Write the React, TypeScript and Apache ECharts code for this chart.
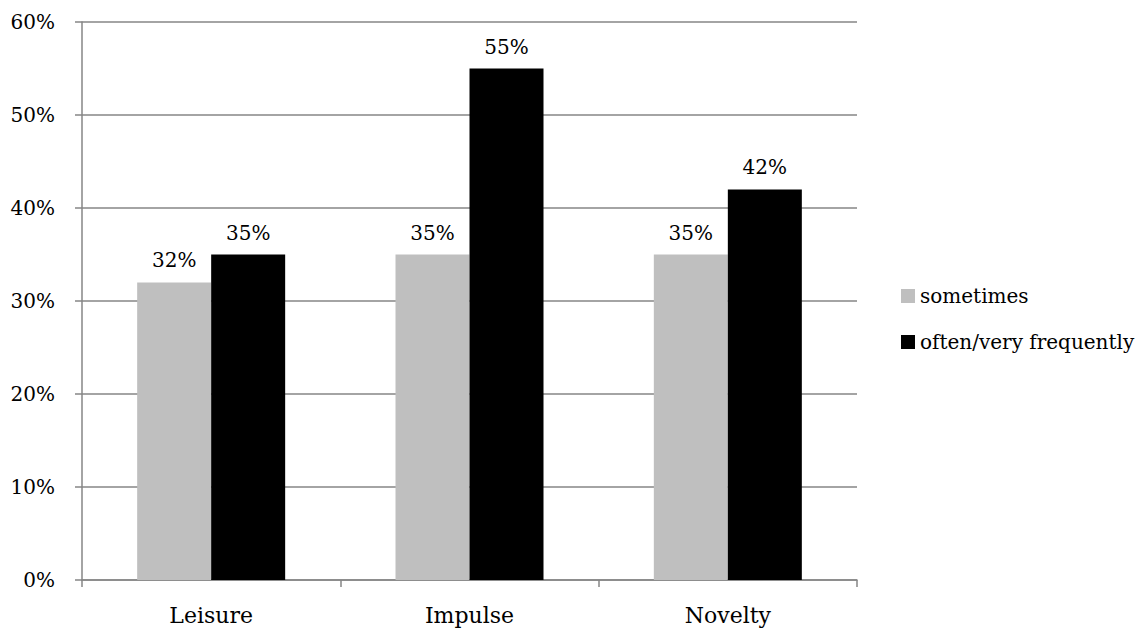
import React, { useEffect, useRef } from "react";
import * as echarts from "echarts";

const categories = ["Leisure", "Impulse", "Novelty"];
const sometimes = [32, 35, 35];
const oftenVeryFrequently = [35, 55, 42];
const seriesNames = ["sometimes", "often/very frequently"];

const FONT = "DejaVu Serif";

export default function App() {
  const ref = useRef<HTMLDivElement>(null);

  useEffect(() => {
    if (!ref.current) return;
    const chart = echarts.init(ref.current, undefined, { renderer: "svg" });
    const labelStyle = {
      show: true,
      position: "top" as const,
      distance: 12,
      formatter: (p: any) => `${p.value}%`,
      color: "#000",
      fontSize: 20,
      fontFamily: FONT,
    };
    chart.setOption({
      animation: false,
      textStyle: { fontFamily: FONT },
      grid: { left: 82, right: 289, top: 22, bottom: 48 },
      legend: {
        orient: "vertical",
        left: 896,
        top: 281,
        padding: 5,
        icon: "rect",
        itemWidth: 14,
        itemHeight: 14,
        itemGap: 26,
        textStyle: { color: "#000", fontSize: 20, lineHeight: 20, fontFamily: FONT },
        data: seriesNames,
      },
      xAxis: {
        type: "category",
        data: categories,
        axisLine: { lineStyle: { color: "#868686", width: 1.5 } },
        axisTick: { show: true, length: 7, lineStyle: { color: "#868686", width: 1.5 } },
        axisLabel: { color: "#000", fontSize: 22, fontFamily: FONT, margin: 24 },
      },
      yAxis: {
        type: "value",
        min: 0,
        max: 60,
        interval: 10,
        axisLine: { show: true, lineStyle: { color: "#868686", width: 1.5 } },
        axisTick: { show: true, length: 7, lineStyle: { color: "#868686", width: 1.5 } },
        splitLine: { show: true, lineStyle: { color: "#868686", width: 1.5 } },
        axisLabel: {
          color: "#000",
          fontSize: 20,
          fontFamily: FONT,
          margin: 27,
          formatter: (v: number) => `${v}%`,
        },
      },
      series: [
        {
          name: seriesNames[0],
          type: "bar",
          data: sometimes,
          barWidth: 74,
          barGap: "0%",
          itemStyle: { color: "#bfbfbf" },
          label: labelStyle,
        },
        {
          name: seriesNames[1],
          type: "bar",
          data: oftenVeryFrequently,
          barWidth: 74,
          barGap: "0%",
          itemStyle: { color: "#000000" },
          label: labelStyle,
        },
      ],
    });
    return () => chart.dispose();
  }, []);

  return (
    <div
      ref={ref}
      style={{ position: "fixed", left: 0, top: 0, width: 1146, height: 628, background: "#fff" }}
    />
  );
}
